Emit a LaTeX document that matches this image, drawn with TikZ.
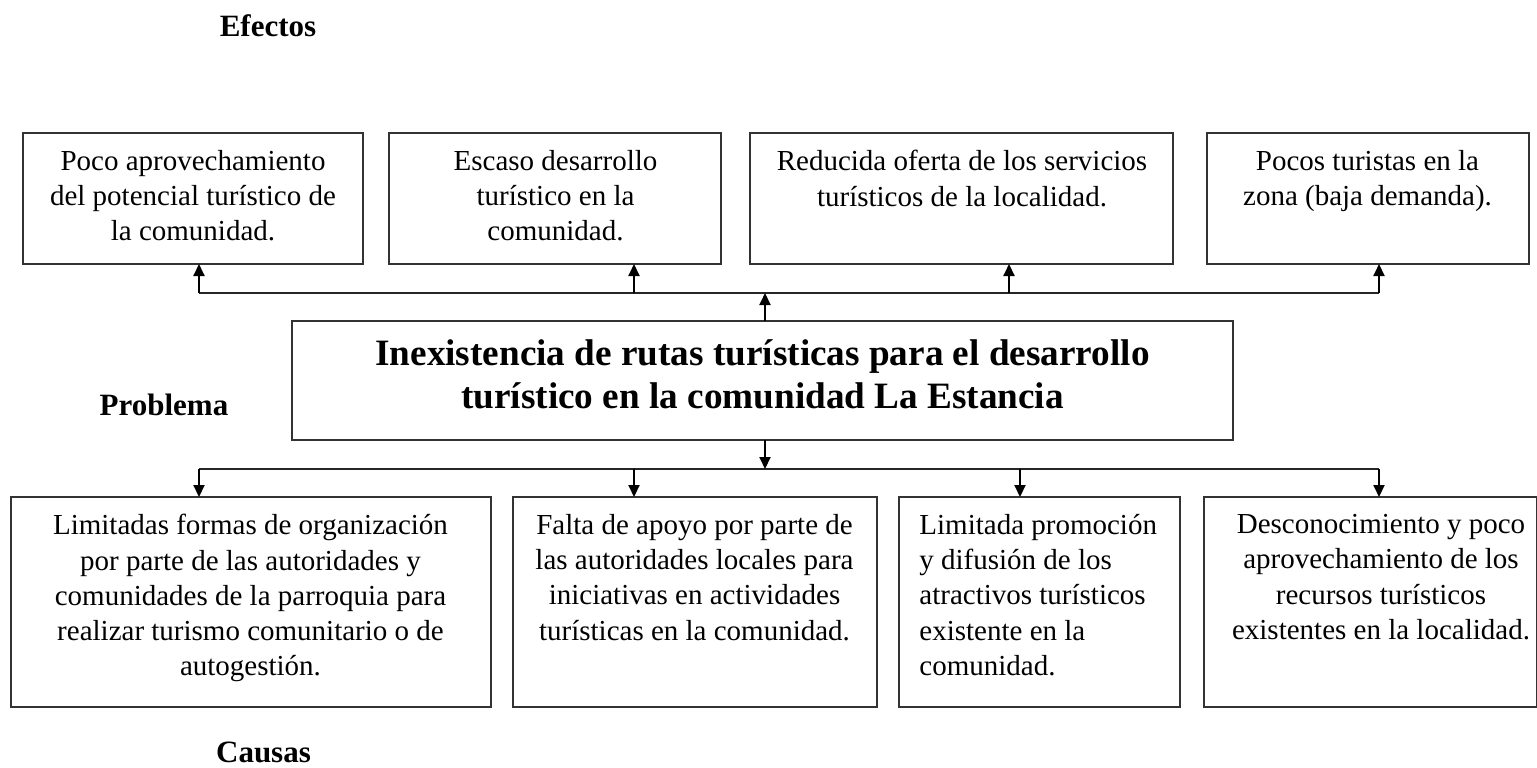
\documentclass[tikz,border=0pt]{standalone}
\usepackage{fontspec}
\setmainfont{Liberation Serif}
\usetikzlibrary{arrows.meta}
\begin{document}
\begin{tikzpicture}[x=0.5pt,y=-0.5pt,
  box/.style={draw=black!80, line width=0.6pt, inner sep=0pt, outer sep=0pt, anchor=north west},
  txt/.style={font=\fontsize{14.5}{17.6}\selectfont, align=center, inner sep=0pt, anchor=north},
  ttl/.style={font=\fontsize{15.5}{18}\selectfont\bfseries, inner sep=0pt, anchor=base},
  bus/.style={line width=0.6pt, draw=black!85},
  arr/.style={line width=1pt, -{Triangle[length=6pt,width=5.5pt]}}]
\useasboundingbox (0,0) rectangle (1537,767);
% titles
\node[ttl] (lef) at (268,36) {Efectos};
\node[ttl] (lpr) at (164,415) {Problema};
\node[ttl] (lca) at (263.5,762) {Causas};
% effect boxes
\node[box, minimum width=170pt, minimum height=65.5pt] (e1) at (23,133) {};
\node[box, minimum width=166pt, minimum height=65.5pt] (e2) at (389,133) {};
\node[box, minimum width=211.5pt, minimum height=65.5pt] (e3) at (750,133) {};
\node[box, minimum width=161pt, minimum height=65.5pt] (e4) at (1207,133) {};
\node[txt] (e1t) at (193,150) {Poco aprovechamiento\\del potencial turístico de\\la comunidad.};
\node[txt] (e2t) at (555.5,150) {Escaso desarrollo\\turístico en la\\comunidad.};
\node[txt] (e3t) at (962,150) {Reducida oferta de los servicios\\turísticos de la localidad.};
\node[txt] (e4t) at (1367.5,150) {Pocos turistas en la\\zona (baja demanda).};
% problem
\node[box, minimum width=470.5pt, minimum height=59.5pt] (p) at (292,321) {};
\node[font=\fontsize{18.6}{21.5}\selectfont\bfseries, align=center, inner sep=0pt, anchor=north] (pt) at (762.5,339) {Inexistencia de rutas turísticas para el desarrollo\\turístico en la comunidad La Estancia};
% cause boxes
\node[box, minimum width=240pt, minimum height=105pt] (c1) at (11,497) {};
\node[box, minimum width=182pt, minimum height=105pt] (c2) at (513,497) {};
\node[box, minimum width=140.5pt, minimum height=105pt] (c3) at (899,497) {};
\node[box, minimum width=166.5pt, minimum height=105pt] (c4) at (1204,497) {};
\node[txt] (c1t) at (250.5,514) {Limitadas formas de organización\\por parte de las autoridades y\\comunidades de la parroquia para\\realizar turismo comunitario o de\\autogestión.};
\node[txt] (c2t) at (694.5,514) {Falta de apoyo por parte de\\las autoridades locales para\\iniciativas en actividades\\turísticas en la comunidad.};
\node[txt, align=left, anchor=north west] (c3t) at (919,514) {Limitada promoción\\y difusión de los\\atractivos turísticos\\existente en la\\comunidad.};
\node[txt] (c4t) at (1381,514) {Desconocimiento y poco\\aprovechamiento de los\\recursos turísticos\\existentes en la localidad.};
% top connectors
\coordinate (tb1) at (199,293);
\coordinate (tb2) at (634,293);
\coordinate (tb3) at (1009,293);
\coordinate (tb4) at (1379,293);
\coordinate (tbc) at (765,293);
\draw[bus] (tb1) -- (tb4);
\draw[arr] (tbc |- p.north) -- (tbc);
\draw[arr] (tb1) -- (tb1 |- e1.south);
\draw[arr] (tb2) -- (tb2 |- e2.south);
\draw[arr] (tb3) -- (tb3 |- e3.south);
\draw[arr] (tb4) -- (tb4 |- e4.south);
% bottom connectors
\coordinate (bb1) at (199,469);
\coordinate (bb2) at (634,469);
\coordinate (bb3) at (1020,469);
\coordinate (bb4) at (1379,469);
\coordinate (bbc) at (765,469);
\draw[bus] (bb1) -- (bb4);
\draw[arr] (bbc |- p.south) -- (bbc);
\draw[arr] (bb1) -- (bb1 |- c1.north);
\draw[arr] (bb2) -- (bb2 |- c2.north);
\draw[arr] (bb3) -- (bb3 |- c3.north);
\draw[arr] (bb4) -- (bb4 |- c4.north);
\end{tikzpicture}
\end{document}
